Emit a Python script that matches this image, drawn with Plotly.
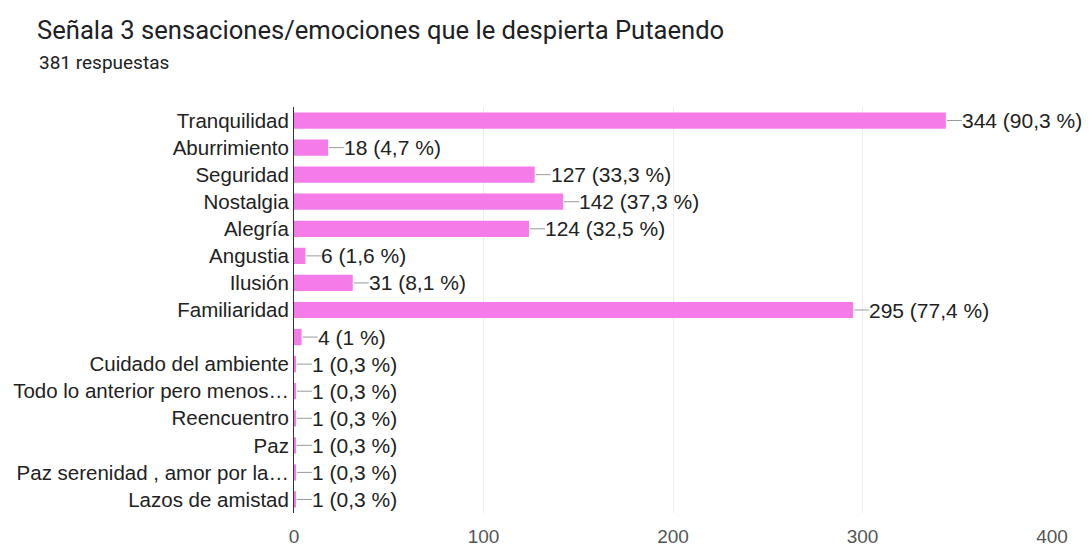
import plotly.graph_objects as go

categorias = ["Tranquilidad", "Aburrimiento", "Seguridad", "Nostalgia", "Alegría",
              "Angustia", "Ilusión", "Familiaridad", "", "Cuidado del ambiente",
              "Todo lo anterior pero menos…", "Reencuentro", "Paz",
              "Paz serenidad , amor por la…", "Lazos de amistad"]
respuestas = [344, 18, 127, 142, 124, 6, 31, 295, 4, 1, 1, 1, 1, 1, 1]
porcentajes = ["90,3", "4,7", "33,3", "37,3", "32,5", "1,6", "8,1", "77,4", "1",
               "0,3", "0,3", "0,3", "0,3", "0,3", "0,3"]
x_ticks = [0, 100, 200, 300, 400]

fuente = "Liberation Sans, Arial"
pos = list(range(len(categorias)))
fig = go.Figure()
fig.add_trace(go.Bar(x=respuestas, y=pos, orientation="h", width=0.6,
                     marker_color="#f57be9", marker_line_width=0, hoverinfo="x"))

for i, (v, p) in enumerate(zip(respuestas, porcentajes)):
    fig.add_shape(type="line", xref="x", yref="y", xsizemode="pixel", xanchor=v,
                  x0=1, x1=16, y0=i, y1=i, line=dict(color="#999999", width=1))
    fig.add_annotation(x=v, y=i, xref="x", yref="y", text=f"{v} ({p} %)",
                       showarrow=False, xanchor="left", xshift=14,
                       font=dict(family=fuente, size=21, color="#222222"))

fig.update_layout(
    width=1090, height=546,
    margin=dict(l=294, r=38, t=107, b=33, autoexpand=False),
    paper_bgcolor="white", plot_bgcolor="white",
    showlegend=False, bargap=0.4,
    title=dict(text="Señala 3 sensaciones/emociones que le despierta Putaendo",
               x=37 / 1090, xanchor="left", y=1 - 30 / 546, yanchor="middle",
               font=dict(family="Roboto", size=25.6, color="#202124")),
)
fig.add_annotation(text="381 respuestas", xref="paper", yref="paper",
                   x=-257 / 758, y=1 + 45 / 406, xanchor="left", yanchor="middle",
                   showarrow=False, font=dict(family="Roboto", size=19, color="#202124"))

fig.update_xaxes(range=[0, 400], tickvals=x_ticks, showgrid=True, gridcolor="#ececec",
                 zeroline=False, showline=False, ticks="outside", ticklen=6,
                 tickcolor="rgba(0,0,0,0)", automargin=False,
                 tickfont=dict(family=fuente, size=19, color="#555555"))
fig.update_yaxes(range=[14.5, -0.5], tickvals=pos, ticktext=categorias, showgrid=False,
                 zeroline=False, showline=True, linecolor="#333333", linewidth=1,
                 ticks="", automargin=False,
                 tickfont=dict(family=fuente, size=20.5, color="#222222"))

fig.write_html("out.html", config={"displayModeBar": False},
               post_script="document.body.style.margin='0';")
